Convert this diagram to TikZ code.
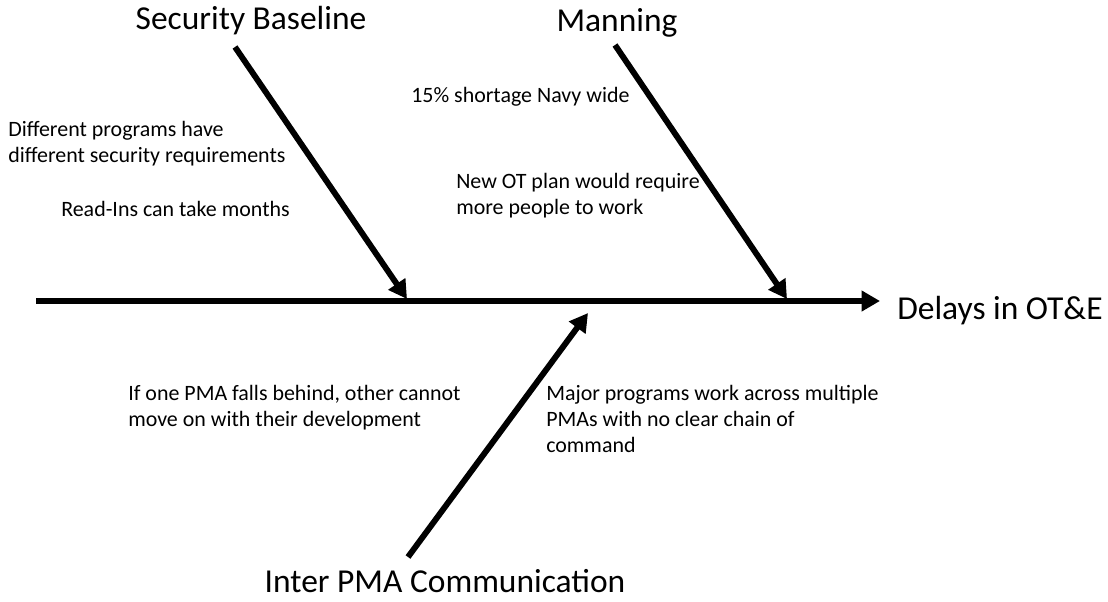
\documentclass[tikz,border=0pt]{standalone}
\usepackage{fontspec}
\setmainfont{Carlito}
\usetikzlibrary{arrows.meta}

\begin{document}
\begin{tikzpicture}[x=0.025cm,y=-0.025cm,
    bone/.style={line width=4.2pt, -{Triangle[length=13pt,width=14pt]}},
    head/.style={inner sep=0pt, font=\fontsize{23.8}{28}\selectfont},
    cause/.style={inner sep=0pt, anchor=north west, align=left, font=\fontsize{15.6}{18.5}\selectfont}]
  \useasboundingbox (0,0) rectangle (1108,601);
  % spine
  \coordinate (tail) at (36,301);
  \node[head, anchor=west] (effect) at (897,311) {Delays in OT\&E};
  \coordinate (tip) at (880,301);
  \draw[bone] (tail) -- (tip);
  % main bones
  \node[head] (secure) at (251,21) {Security Baseline};
  \node[head] (manning) at (617,23) {Manning};
  \node[head] (interpma) at (445,581) {Inter PMA Communication};
  \coordinate (s0) at (235,47);  \coordinate (s1) at (407,299);
  \coordinate (m0) at (615,45);  \coordinate (m1) at (787,299);
  \coordinate (i0) at (408,557); \coordinate (i1) at (588,313);
  \draw[bone] (s0) -- (s1);
  \draw[bone] (m0) -- (m1);
  \draw[bone] (i0) -- (i1);
  % causes
  \node[cause] (diffprog) at (8,121) {Different programs have\\different security requirements};
  \node[cause] (readins) at (61,201) {Read-Ins can take months};
  \node[cause] (shortage) at (411,87) {15\% shortage Navy wide};
  \node[cause] (otplan) at (456,173) {New OT plan would require\\more people to work};
  \node[cause] (behind) at (128,385) {If one PMA falls behind, other cannot\\move on with their development};
  \node[cause] (major) at (546,385) {Major programs work across multiple\\PMAs with no clear chain of\\command};
\end{tikzpicture}
\end{document}
